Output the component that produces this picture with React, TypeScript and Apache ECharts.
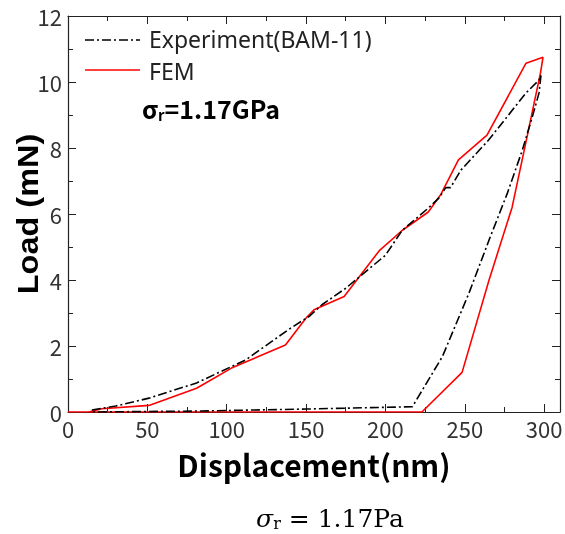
import React, { useEffect, useRef } from "react";
import * as echarts from "echarts";

// Tick values
const xMajorTicks = [0, 50, 100, 150, 200, 250, 300];
const xMinorTicks = [25, 75, 125, 175, 225, 275];
const yMajorTicks = [0, 2, 4, 6, 8, 10, 12];
const yMinorTicks = [1, 3, 5, 7, 9, 11];

// Experiment (BAM-11): loading, unloading, then the low return segment
const expX = [15, 30, 51, 81, 112, 139, 152, 160, 175, 200, 210.5, 227.5, 234, 238, 241, 247.6, 265, 288.6, 296.8, 298,
  296.8, 292.6, 286.3, 276.9, 265.3, 252.7, 235.9, 217, 150, 84, 15];
const expY = [0.06, 0.18, 0.42, 0.88, 1.58, 2.5, 2.9, 3.25, 3.75, 4.75, 5.5, 6.2, 6.5, 6.8, 6.8, 7.33, 8.24, 9.67, 10.06, 10.2,
  9.67, 8.95, 7.94, 6.64, 5.21, 3.61, 1.68, 0.16, 0.09, 0.03, 0];

// FEM: loading then unloading
const femX = [0, 13, 21.4, 51, 81, 103, 137, 150, 155, 174, 196, 210.5, 227, 235, 246, 264, 288.6, 299.3,
  297.8, 288.4, 279.8, 265.3, 248.3, 223, 0];
const femY = [0, 0, 0.1, 0.2, 0.72, 1.33, 2.03, 2.85, 3.1, 3.5, 4.88, 5.5, 6.06, 6.6, 7.64, 8.39, 10.57, 10.75,
  10.3, 8.15, 6.2, 4.0, 1.2, 0, 0];

const expName = "Experiment(BAM-11)";
const femName = "FEM";

export default function App() {
  const ref = useRef<HTMLDivElement>(null);
  useEffect(() => {
    const chart = echarts.init(ref.current!, null, { renderer: "svg" });
    const frame = { show: true, onZero: false, lineStyle: { color: "#222", width: 1.2 } };
    const noLine = { show: false, onZero: false };
    const xBase = { type: "value", min: 0, max: 310, splitLine: { show: false } };
    const yBase = { type: "value", min: 0, max: 12, interval: 2, splitLine: { show: false } };
    const labelFont = { fontSize: 22, color: "#333", fontFamily: "Noto Sans CJK SC" };
    const ticks = (vals: number[], len: number) => ({ show: true, inside: true, length: len, customValues: vals, lineStyle: { color: "#222", width: 1 } });
    chart.setOption({
      animation: false,
      grid: { left: 68, right: 5, top: 16, bottom: 122, containLabel: false, outerBoundsMode: "none" },
      xAxis: [
        {
          ...xBase, position: "bottom", axisLine: frame, axisTick: ticks(xMajorTicks, 8),
          axisLabel: { customValues: xMajorTicks, margin: 5, ...labelFont },
          name: "Displacement(nm)", nameLocation: "middle", nameGap: 37, nameMoveOverlap: false,
          nameTextStyle: { fontSize: 30, fontWeight: "bold", color: "#000", fontFamily: "Noto Sans CJK SC" },
        },
        { ...xBase, position: "bottom", axisLine: noLine, axisTick: ticks(xMinorTicks, 5), axisLabel: { show: false } },
        { ...xBase, position: "top", axisLine: frame, axisTick: ticks(xMajorTicks, 8), axisLabel: { show: false } },
        { ...xBase, position: "top", axisLine: noLine, axisTick: ticks(xMinorTicks, 5), axisLabel: { show: false } },
      ],
      yAxis: [
        {
          ...yBase, position: "left", axisLine: frame, axisTick: ticks(yMajorTicks, 8),
          axisLabel: { customValues: yMajorTicks, margin: 6, ...labelFont },
        },
        { ...yBase, position: "left", axisLine: noLine, axisTick: ticks(yMinorTicks, 5), axisLabel: { show: false } },
        { ...yBase, position: "right", axisLine: frame, axisTick: ticks(yMajorTicks, 8), axisLabel: { show: false } },
        { ...yBase, position: "right", axisLine: noLine, axisTick: ticks(yMinorTicks, 5), axisLabel: { show: false } },
      ],
      series: [
        {
          name: expName, type: "line", xAxisIndex: 0, yAxisIndex: 0, showSymbol: false, symbol: "none",
          data: expX.map((x, i) => [x, expY[i]]),
          lineStyle: { color: "#000", width: 1.6, type: [9, 3, 2, 3] },
          z: 3,
        },
        {
          name: femName, type: "line", xAxisIndex: 0, yAxisIndex: 0, showSymbol: false, symbol: "none",
          data: femX.map((x, i) => [x, femY[i]]),
          lineStyle: { color: "#ff0000", width: 1.6 },
          z: 2,
        },
      ],
      graphic: [
        {
          type: "text", x: 28, y: 214, rotation: Math.PI / 2, scaleX: 1.12,
          style: { text: "Load (mN)", fontSize: 29, fontWeight: "bold", fontFamily: "Liberation Sans", fill: "#000", align: "center", verticalAlign: "middle" },
        },
        { type: "line", shape: { x1: 85, y1: 40, x2: 140, y2: 40 }, style: { stroke: "#000", lineWidth: 1.6, lineDash: [9, 3, 2, 3] } },
        { type: "text", x: 149, y: 39, style: { text: expName, fontSize: 23, lineHeight: 25, fontFamily: "Noto Sans", fill: "#222", verticalAlign: "middle" } },
        { type: "line", shape: { x1: 85, y1: 70, x2: 140, y2: 70 }, style: { stroke: "#ff0000", lineWidth: 1.6 } },
        { type: "text", x: 149, y: 71, style: { text: femName, fontSize: 23, lineHeight: 25, fontFamily: "Noto Sans", fill: "#222", verticalAlign: "middle" } },
        {
          type: "text", x: 142, y: 108,
          style: {
            text: "{s|σ}{sub|r}{b|=1.17GPa}", verticalAlign: "middle",
            rich: {
              s: { fontSize: 25, fontWeight: "bold", fontFamily: "Noto Sans CJK SC", fill: "#000" },
              sub: { fontSize: 15, fontWeight: "bold", fontFamily: "Noto Sans CJK SC", fill: "#000", padding: [13, 0, 0, 0] },
              b: { fontSize: 25, fontWeight: "bold", fontFamily: "Noto Sans CJK SC", fill: "#000" },
            },
          },
        },
        {
          type: "text", x: 330, y: 518,
          style: {
            text: "{i|σ}{sub|r}{n| = 1.17Pa}", align: "center", verticalAlign: "middle",
            rich: {
              i: { fontSize: 25, fontStyle: "italic", fontFamily: "DejaVu Serif", fill: "#000" },
              sub: { fontSize: 16, fontFamily: "DejaVu Serif", fill: "#000", padding: [10, 0, 0, 0] },
              n: { fontSize: 25, fontFamily: "DejaVu Serif", fill: "#000" },
            },
          },
        },
      ],
    });
    return () => chart.dispose();
  }, []);
  return <div ref={ref} style={{ width: 565, height: 534, position: "fixed", left: 0, top: 0 }} />;
}
